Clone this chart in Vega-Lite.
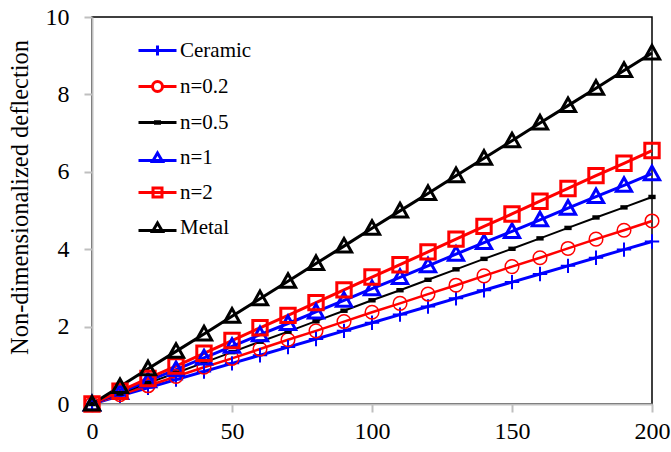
{
  "$schema": "https://vega.github.io/schema/vega-lite/v6.json",
  "width": 560,
  "height": 387,
  "autosize": {"type": "none"},
  "padding": {"left": 92, "top": 17, "right": 19, "bottom": 48},
  "background": "white",
  "config": {
    "view": {"stroke": "black", "strokeWidth": 1.5},
    "font": "Liberation Serif",
    "axis": {
      "grid": false,
      "zindex": 1,
      "labelFlush": false,
      "domainColor": "#BFBFBF",
      "domainWidth": 2,
      "tickColor": "#BFBFBF",
      "tickWidth": 2,
      "tickSize": 8,
      "labelFont": "Liberation Serif",
      "labelFontSize": 24,
      "labelColor": "black",
      "titleFont": "Liberation Serif",
      "titleFontSize": 24.5,
      "titleFontWeight": "normal",
      "titleColor": "black"
    },
    "legend": {
      "labelFont": "Liberation Serif",
      "labelFontSize": 21,
      "labelColor": "black",
      "symbolOpacity": 1,
      "symbolStrokeWidth": 3
    }
  },
  "data": {
    "values": [
      {"x": 0, "s1": 0, "s2": 0, "s3": 0, "s4": 0, "s5": 0, "s6": 0},
      {"x": 10, "s1": 0.21, "s2": 0.24, "s3": 0.27, "s4": 0.30, "s5": 0.33, "s6": 0.45},
      {"x": 20, "s1": 0.42, "s2": 0.47, "s3": 0.54, "s4": 0.60, "s5": 0.66, "s6": 0.91},
      {"x": 30, "s1": 0.63, "s2": 0.71, "s3": 0.80, "s4": 0.89, "s5": 0.98, "s6": 1.36},
      {"x": 40, "s1": 0.84, "s2": 0.95, "s3": 1.07, "s4": 1.19, "s5": 1.31, "s6": 1.81},
      {"x": 50, "s1": 1.05, "s2": 1.18, "s3": 1.34, "s4": 1.49, "s5": 1.64, "s6": 2.27},
      {"x": 60, "s1": 1.26, "s2": 1.42, "s3": 1.61, "s4": 1.79, "s5": 1.97, "s6": 2.72},
      {"x": 70, "s1": 1.47, "s2": 1.66, "s3": 1.87, "s4": 2.08, "s5": 2.29, "s6": 3.17},
      {"x": 80, "s1": 1.68, "s2": 1.89, "s3": 2.14, "s4": 2.38, "s5": 2.62, "s6": 3.63},
      {"x": 90, "s1": 1.89, "s2": 2.13, "s3": 2.41, "s4": 2.68, "s5": 2.95, "s6": 4.08},
      {"x": 100, "s1": 2.10, "s2": 2.37, "s3": 2.68, "s4": 2.98, "s5": 3.28, "s6": 4.54},
      {"x": 110, "s1": 2.31, "s2": 2.60, "s3": 2.94, "s4": 3.27, "s5": 3.60, "s6": 4.99},
      {"x": 120, "s1": 2.52, "s2": 2.84, "s3": 3.21, "s4": 3.57, "s5": 3.93, "s6": 5.44},
      {"x": 130, "s1": 2.73, "s2": 3.07, "s3": 3.48, "s4": 3.87, "s5": 4.26, "s6": 5.90},
      {"x": 140, "s1": 2.94, "s2": 3.31, "s3": 3.75, "s4": 4.17, "s5": 4.59, "s6": 6.35},
      {"x": 150, "s1": 3.15, "s2": 3.55, "s3": 4.01, "s4": 4.46, "s5": 4.91, "s6": 6.80},
      {"x": 160, "s1": 3.36, "s2": 3.78, "s3": 4.28, "s4": 4.76, "s5": 5.24, "s6": 7.26},
      {"x": 170, "s1": 3.57, "s2": 4.02, "s3": 4.55, "s4": 5.06, "s5": 5.57, "s6": 7.71},
      {"x": 180, "s1": 3.78, "s2": 4.26, "s3": 4.82, "s4": 5.36, "s5": 5.90, "s6": 8.16},
      {"x": 190, "s1": 3.99, "s2": 4.49, "s3": 5.08, "s4": 5.65, "s5": 6.22, "s6": 8.62},
      {"x": 200, "s1": 4.20, "s2": 4.73, "s3": 5.35, "s4": 5.95, "s5": 6.55, "s6": 9.07}
    ]
  },
  "transform": [
    {"fold": ["s1", "s2", "s3", "s4", "s5", "s6"], "as": ["key", "y"]},
    {"lookup": "key", "from": {"data": {"values": [
      {"key": "s1", "series": "Ceramic"},
      {"key": "s2", "series": "n=0.2"},
      {"key": "s3", "series": "n=0.5"},
      {"key": "s4", "series": "n=1"},
      {"key": "s5", "series": "n=2"},
      {"key": "s6", "series": "Metal"}
    ]}, "key": "key", "fields": ["series"]}}
  ],
  "encoding": {
    "x": {"field": "x", "type": "quantitative", "scale": {"domain": [0, 200], "nice": false}, "axis": {"values": [0, 50, 100, 150, 200], "title": null, "labelPadding": 7}},
    "y": {"field": "y", "type": "quantitative", "scale": {"domain": [0, 10], "nice": false}, "axis": {"values": [0, 2, 4, 6, 8, 10], "title": "Non-dimensionalized deflection", "labelPadding": 15, "titlePadding": 13, "titleY": 180}}
  },
  "layer": [
    {
      "mark": {"type": "line", "clip": false},
      "encoding": {
        "color": {"field": "series", "type": "nominal", "scale": {"domain": ["Ceramic", "n=0.2", "n=0.5", "n=1", "n=2", "Metal"], "range": ["#0000FF", "#FF0000", "#000000", "#0000FF", "#FF0000", "#000000"]}, "legend": null},
        "strokeWidth": {"field": "series", "type": "nominal", "scale": {"type": "ordinal", "domain": ["Ceramic", "n=0.2", "n=0.5", "n=1", "n=2", "Metal"], "range": [3, 2.5, 2, 3, 3, 3]}, "legend": null}
      }
    },
    {
      "mark": {"type": "point", "filled": false, "size": 256, "opacity": 1, "clip": false},
      "encoding": {
        "color": {"field": "series", "type": "nominal", "legend": null},
        "shape": {"field": "series", "type": "nominal", "scale": {"domain": ["Ceramic", "n=0.2", "n=0.5", "n=1", "n=2", "Metal"], "range": ["M-0.9,0H0.9M0,-0.9V0.9", "M-0.85,0A0.85,0.85 0 1,0 0.85,0A0.85,0.85 0 1,0 -0.85,0", "M-0.3,-0.12H0.3V0.12H-0.3Z", "M0,-0.95L0.95,0.75H-0.95Z", "M-0.9,-0.9H0.9V0.9H-0.9Z", "M0,-0.95L0.95,0.75H-0.95Z"]}, "legend": null},
        "strokeWidth": {"field": "series", "type": "nominal", "scale": {"type": "ordinal", "domain": ["Ceramic", "n=0.2", "n=0.5", "n=1", "n=2", "Metal"], "range": [2, 1.5, 2.5, 3, 3, 3]}, "legend": null}
      }
    },
    {
      "mark": {"type": "point", "filled": false, "size": 144, "opacity": 0, "strokeWidth": 3},
      "encoding": {
        "stroke": {"field": "series", "type": "nominal", "scale": {"domain": ["Ceramic", "n=0.2", "n=0.5", "n=1", "n=2", "Metal"], "range": ["#0000FF", "#FF0000", "#000000", "#0000FF", "#FF0000", "#000000"]}, "legend": {"title": null, "orient": "none", "legendX": 55, "legendY": 23, "rowPadding": 13, "labelOffset": 12, "labelFont": "Liberation Serif", "symbolOpacity": 1}},
        "shape": {"field": "series", "type": "nominal", "scale": {"domain": ["Ceramic", "n=0.2", "n=0.5", "n=1", "n=2", "Metal"], "range": ["M-3.8,0H3.8M0,-1V1", "M-3.8,0H-1M1,0H3.8M-1,0A1,1 0 1,0 1,0A1,1 0 1,0 -1,0", "M-3.8,0H3.8M-0.4,-0.15H0.4V0.15H-0.4Z", "M-3.8,0.6H3.8M0,-0.9L1,0.8H-1Z", "M-3.8,0H3.8M-0.9,-0.9H0.9V0.9H-0.9Z", "M-3.8,0.6H3.8M0,-0.9L1,0.8H-1Z"]}, "legend": {"title": null, "orient": "none", "legendX": 55, "legendY": 23, "rowPadding": 13, "labelOffset": 12, "labelFont": "Liberation Serif", "symbolOpacity": 1}}
      }
    }
  ],
  "resolve": {"scale": {"shape": "independent", "stroke": "independent", "strokeWidth": "independent"}, "legend": {"shape": "independent", "stroke": "independent"}}
}
